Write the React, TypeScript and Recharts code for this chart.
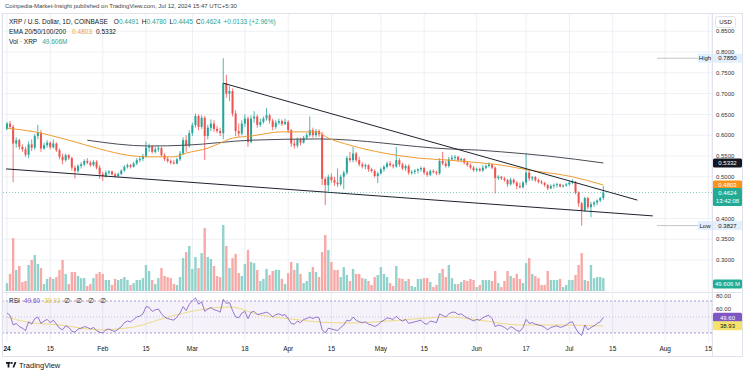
import React from "react";
import {
	ComposedChart,
	Bar,
	Line,
	XAxis,
	YAxis,
	CartesianGrid,
	ReferenceLine,
	ReferenceArea,
} from "recharts";

type Ohlc = [number, number, number, number];

const FONT = '"Liberation Sans", Arial, sans-serif';
const UP = "#26a69a";
const DOWN = "#ef5350";
const UP_VOL = "#92d2cc";
const DOWN_VOL = "#f7a9a7";
const INK = "#131722";
const GRID = "#edf0f5";
const ORANGE = "#f09c32";
const PURPLE = "#7e57c2";
const YELLOW = "#f5e26b";

// daily candles from Jan 1 2024, [open, high, low, close]
const CANDLES: Ohlc[] = [
	// Jan
	[0.615, 0.632, 0.612, 0.628], [0.628, 0.634, 0.615, 0.62], [0.62, 0.625, 0.487, 0.58], [0.58, 0.595, 0.57, 0.588], [0.588, 0.592, 0.565, 0.572],
	[0.572, 0.578, 0.56, 0.566], [0.566, 0.572, 0.548, 0.553], [0.553, 0.585, 0.545, 0.578], [0.578, 0.59, 0.562, 0.57], [0.57, 0.603, 0.565, 0.598],
	[0.598, 0.625, 0.59, 0.606], [0.606, 0.612, 0.56, 0.568], [0.568, 0.582, 0.565, 0.576], [0.576, 0.588, 0.57, 0.582], [0.582, 0.585, 0.566, 0.571],
	[0.571, 0.59, 0.568, 0.58], [0.58, 0.583, 0.56, 0.564], [0.564, 0.568, 0.542, 0.548], [0.548, 0.556, 0.53, 0.54], [0.54, 0.556, 0.536, 0.552],
	[0.552, 0.555, 0.54, 0.545], [0.545, 0.548, 0.515, 0.522], [0.522, 0.527, 0.496, 0.514], [0.514, 0.53, 0.51, 0.526], [0.526, 0.535, 0.52, 0.53],
	[0.53, 0.542, 0.525, 0.538], [0.538, 0.545, 0.53, 0.534], [0.534, 0.538, 0.524, 0.528], [0.528, 0.54, 0.525, 0.536], [0.536, 0.54, 0.518, 0.522],
	[0.522, 0.528, 0.495, 0.506],
	// Feb
	[0.506, 0.512, 0.49, 0.502], [0.502, 0.515, 0.498, 0.51], [0.51, 0.516, 0.505, 0.513], [0.513, 0.515, 0.503, 0.506], [0.506, 0.51, 0.498, 0.502],
	[0.502, 0.51, 0.499, 0.507], [0.507, 0.518, 0.504, 0.515], [0.515, 0.528, 0.512, 0.524], [0.524, 0.532, 0.52, 0.528], [0.528, 0.531, 0.52, 0.524],
	[0.524, 0.536, 0.522, 0.532], [0.532, 0.545, 0.528, 0.54], [0.54, 0.548, 0.535, 0.543], [0.543, 0.555, 0.538, 0.55], [0.55, 0.585, 0.546, 0.57],
	[0.57, 0.58, 0.56, 0.573], [0.573, 0.576, 0.556, 0.56], [0.56, 0.572, 0.556, 0.566], [0.566, 0.575, 0.56, 0.569], [0.569, 0.572, 0.548, 0.552],
	[0.552, 0.556, 0.538, 0.543], [0.543, 0.548, 0.534, 0.538], [0.538, 0.542, 0.53, 0.534], [0.534, 0.54, 0.53, 0.532], [0.532, 0.546, 0.53, 0.542],
	[0.542, 0.562, 0.538, 0.556], [0.556, 0.595, 0.552, 0.588], [0.588, 0.6, 0.56, 0.575], [0.575, 0.612, 0.57, 0.605],
	// Mar
	[0.605, 0.63, 0.598, 0.624], [0.624, 0.652, 0.618, 0.646], [0.646, 0.65, 0.612, 0.62], [0.62, 0.648, 0.615, 0.642], [0.642, 0.646, 0.54, 0.598],
	[0.598, 0.625, 0.59, 0.618], [0.618, 0.638, 0.61, 0.628], [0.628, 0.636, 0.608, 0.615], [0.615, 0.622, 0.605, 0.61], [0.61, 0.618, 0.598, 0.605],
	[0.605, 0.785, 0.59, 0.725], [0.725, 0.745, 0.69, 0.7], [0.7, 0.718, 0.682, 0.706], [0.706, 0.712, 0.645, 0.652], [0.652, 0.66, 0.598, 0.61],
	[0.61, 0.628, 0.596, 0.604], [0.604, 0.636, 0.6, 0.628], [0.628, 0.65, 0.62, 0.64], [0.64, 0.645, 0.572, 0.584], [0.584, 0.648, 0.58, 0.64],
	[0.64, 0.658, 0.63, 0.645], [0.645, 0.65, 0.618, 0.625], [0.625, 0.64, 0.62, 0.632], [0.632, 0.645, 0.628, 0.64], [0.64, 0.665, 0.635, 0.648],
	[0.648, 0.652, 0.628, 0.635], [0.635, 0.64, 0.612, 0.62], [0.62, 0.636, 0.615, 0.63], [0.63, 0.64, 0.625, 0.634], [0.634, 0.638, 0.622, 0.627],
	[0.627, 0.64, 0.624, 0.632],
	// Apr
	[0.632, 0.636, 0.605, 0.612], [0.612, 0.615, 0.572, 0.58], [0.58, 0.59, 0.568, 0.575], [0.575, 0.595, 0.57, 0.59], [0.59, 0.594, 0.575, 0.582],
	[0.582, 0.598, 0.58, 0.594], [0.594, 0.606, 0.59, 0.6], [0.6, 0.645, 0.596, 0.612], [0.612, 0.618, 0.594, 0.6], [0.6, 0.615, 0.595, 0.61],
	[0.61, 0.614, 0.596, 0.602], [0.602, 0.608, 0.48, 0.495], [0.495, 0.5, 0.432, 0.48], [0.48, 0.505, 0.465, 0.5], [0.5, 0.508, 0.486, 0.492],
	[0.492, 0.5, 0.478, 0.486], [0.486, 0.52, 0.475, 0.482], [0.482, 0.505, 0.478, 0.5], [0.5, 0.515, 0.47, 0.51], [0.51, 0.55, 0.505, 0.545],
	[0.545, 0.56, 0.535, 0.54], [0.54, 0.572, 0.535, 0.556], [0.556, 0.56, 0.535, 0.54], [0.54, 0.548, 0.525, 0.53], [0.53, 0.535, 0.52, 0.525],
	[0.525, 0.532, 0.518, 0.528], [0.528, 0.53, 0.512, 0.518], [0.518, 0.522, 0.51, 0.514], [0.514, 0.518, 0.498, 0.502], [0.502, 0.512, 0.485, 0.508],
	// May
	[0.508, 0.522, 0.505, 0.518], [0.518, 0.528, 0.512, 0.524], [0.524, 0.536, 0.52, 0.532], [0.532, 0.538, 0.524, 0.528], [0.528, 0.532, 0.52, 0.525],
	[0.525, 0.572, 0.522, 0.54], [0.54, 0.545, 0.524, 0.53], [0.53, 0.534, 0.516, 0.52], [0.52, 0.53, 0.514, 0.526], [0.526, 0.53, 0.505, 0.51],
	[0.51, 0.516, 0.505, 0.512], [0.512, 0.518, 0.506, 0.515], [0.515, 0.52, 0.508, 0.518], [0.518, 0.525, 0.512, 0.521], [0.521, 0.524, 0.505, 0.51],
	[0.51, 0.514, 0.5, 0.505], [0.505, 0.518, 0.502, 0.514], [0.514, 0.518, 0.508, 0.511], [0.511, 0.515, 0.504, 0.508], [0.508, 0.545, 0.505, 0.538],
	[0.538, 0.56, 0.528, 0.532], [0.532, 0.538, 0.522, 0.526], [0.526, 0.548, 0.522, 0.542], [0.542, 0.552, 0.538, 0.546], [0.546, 0.552, 0.54, 0.548],
	[0.548, 0.55, 0.536, 0.54], [0.54, 0.546, 0.535, 0.543], [0.543, 0.545, 0.53, 0.534], [0.534, 0.538, 0.524, 0.528], [0.528, 0.532, 0.518, 0.522],
	[0.522, 0.526, 0.512, 0.516],
	// Jun
	[0.516, 0.522, 0.512, 0.519], [0.519, 0.522, 0.512, 0.515], [0.515, 0.528, 0.512, 0.522], [0.522, 0.53, 0.518, 0.526], [0.526, 0.535, 0.522, 0.53],
	[0.53, 0.532, 0.518, 0.522], [0.522, 0.525, 0.46, 0.497], [0.497, 0.504, 0.492, 0.5], [0.5, 0.502, 0.492, 0.496], [0.496, 0.5, 0.488, 0.492],
	[0.492, 0.495, 0.476, 0.482], [0.482, 0.498, 0.479, 0.493], [0.493, 0.496, 0.482, 0.486], [0.486, 0.49, 0.47, 0.478], [0.478, 0.486, 0.472, 0.475],
	[0.475, 0.49, 0.472, 0.486], [0.486, 0.557, 0.48, 0.51], [0.51, 0.515, 0.49, 0.496], [0.496, 0.502, 0.49, 0.499], [0.499, 0.502, 0.488, 0.492],
	[0.492, 0.496, 0.484, 0.488], [0.488, 0.492, 0.482, 0.485], [0.485, 0.488, 0.476, 0.48], [0.48, 0.483, 0.468, 0.472], [0.472, 0.482, 0.47, 0.478],
	[0.478, 0.484, 0.472, 0.48], [0.48, 0.486, 0.474, 0.482], [0.482, 0.484, 0.474, 0.477], [0.477, 0.482, 0.474, 0.479], [0.479, 0.485, 0.476, 0.482],
	// Jul
	[0.482, 0.49, 0.478, 0.486], [0.486, 0.494, 0.482, 0.488], [0.488, 0.49, 0.458, 0.462], [0.462, 0.465, 0.428, 0.436], [0.436, 0.44, 0.3827, 0.42],
	[0.42, 0.452, 0.415, 0.449], [0.449, 0.452, 0.422, 0.427], [0.427, 0.44, 0.403, 0.434], [0.434, 0.442, 0.428, 0.438], [0.438, 0.446, 0.432, 0.443],
	[0.443, 0.452, 0.439, 0.4491], [0.4491, 0.478, 0.4445, 0.4624],
];

// volume in millions of XRP, same days
const VOLUME_M: number[] = [
	30, 65, 201, 80, 95, 34, 38, 99, 118, 137,
	103, 87, 27, 46, 53, 46, 53, 80, 118, 65,
	27, 72, 72, 57, 49, 49, 19, 27, 49, 65,
	72, 65, 42, 42, 23, 46, 42, 46, 53, 42,
	23, 30, 42, 42, 49, 99, 76, 42, 27, 49,
	87, 57, 53, 49, 27, 23, 53, 125, 148, 171,
	84, 129, 87, 144, 239, 129, 122, 95, 57, 53,
	251, 171, 87, 125, 141, 68, 57, 103, 156, 110,
	106, 80, 38, 46, 84, 61, 76, 80, 80, 46,
	27, 68, 110, 80, 106, 65, 30, 38, 72, 91,
	72, 53, 148, 213, 156, 110, 80, 80, 53, 91,
	61, 38, 84, 65, 65, 49, 46, 38, 23, 53,
	61, 91, 65, 53, 30, 19, 95, 49, 46, 38,
	46, 19, 15, 46, 46, 49, 49, 34, 15, 23,
	68, 84, 53, 99, 49, 27, 27, 34, 42, 38,
	46, 42, 15, 23, 42, 42, 42, 38, 76, 30,
	15, 38, 76, 57, 49, 65, 46, 30, 106, 125,
	65, 57, 49, 23, 23, 76, 42, 42, 42, 46,
	15, 23, 42, 42, 61, 99, 144, 42, 38, 99,
	49, 53, 53, 49.606,
];

// RSI(14), same days
const RSI: number[] = [
	55, 52, 40, 42, 38, 36, 33, 44, 41, 48,
	50, 42, 45, 47, 43, 46, 41, 36, 34, 39,
	37, 32, 31, 35, 36, 38, 37, 35, 37, 33,
	31, 30, 34, 35, 33, 32, 35, 38, 43, 45,
	44, 47, 50, 51, 54, 63, 62, 57, 59, 60,
	54, 50, 48, 47, 46, 50, 55, 63, 58, 66,
	70, 74, 66, 69, 57, 60, 62, 59, 58, 56,
	72, 67, 68, 58, 50, 49, 55, 57, 48, 56,
	57, 53, 54, 55, 56, 54, 50, 53, 54, 52,
	53, 48, 42, 41, 45, 43, 47, 48, 50, 48,
	50, 49, 34, 30, 36, 35, 34, 33, 37, 40,
	46, 45, 50, 46, 44, 43, 44, 41, 40, 38,
	40, 44, 46, 49, 48, 47, 51, 47, 45, 47,
	42, 43, 44, 45, 46, 42, 41, 45, 44, 43,
	54, 52, 50, 54, 56, 56, 53, 54, 51, 49,
	47, 45, 47, 46, 49, 51, 52, 48, 38, 40,
	39, 37, 34, 38, 36, 33, 32, 37, 47, 42,
	43, 41, 40, 39, 37, 34, 37, 38, 39, 37,
	38, 40, 43, 44, 36, 30, 27, 40, 34, 37,
	39, 42, 44, 49.6,
];

// smooth lines read at a few days: [day, value]
const RSI_MA: [number, number][] = [
	[0, 50], [6, 44], [17, 40], [30, 34], [41, 37.5], [51, 48.7], [62, 58.7], [72, 62.5], [82, 52.5],
	[92, 47.5], [101, 43.7], [111, 42.5], [127, 46], [143, 50], [153, 46], [166, 40], [179, 40], [193, 38.93],
];
const EMA_FAST: [number, number][] = [
	[0, 0.617], [9, 0.608], [20, 0.588], [30, 0.567], [39, 0.552], [46, 0.548], [54, 0.548], [58, 0.557],
	[65, 0.569], [69, 0.581], [73, 0.593], [79, 0.598], [89, 0.608], [100, 0.608], [104, 0.593], [111, 0.576],
	[122, 0.557], [133, 0.545], [143, 0.54], [154, 0.533], [160, 0.528], [169, 0.516], [183, 0.5], [193, 0.4803],
];
const EMA_SLOW: [number, number][] = [
	[26, 0.588], [46, 0.574], [58, 0.576], [79, 0.588], [101, 0.591], [143, 0.567], [153, 0.564], [160, 0.56],
	[175, 0.55], [193, 0.5332],
];

// drawn trend lines: [[day, price], [day, price]]
const TREND_LINES: [[number, number], [number, number]][] = [
	[[70, 0.725], [204, 0.444]],
	[[-0.3, 0.519], [209, 0.406]],
];

const X_TICKS = [0, 14, 31, 45, 60, 77, 91, 105, 121, 135, 152, 168, 182, 196, 213, 227];
const X_LABELS = ["24", "15", "Feb", "15", "Mar", "18", "Apr", "15", "May", "15", "Jun", "17", "Jul", "15", "Aug", "15"];
const PRICE_TICKS = [0.3, 0.35, 0.4, 0.5, 0.55, 0.6, 0.65, 0.7, 0.75, 0.8, 0.85];
const RSI_TICKS = [60, 80];

const X_DOMAIN: [number, number] = [-1.618, 228.155];
const PRICE_DOMAIN: [number, number] = [0.22548, 0.89375];
const VOL_DOMAIN: [number, number] = [0, 1056.4];
const RSI_DOMAIN: [number, number] = [18.75, 81.25];

const rows = CANDLES.map(([open, high, low, close], day) => ({
	day,
	open,
	high,
	low,
	close,
	range: [low, high],
	vol: VOLUME_M[day],
	rsi: RSI[day],
}));

const toRows = (pts: [number, number][]) => pts.map(([day, v]) => ({ day, v }));

const last = CANDLES[CANDLES.length - 1];
const prev = CANDLES[CANDLES.length - 2];
const change = last[3] - prev[3];
const changePct = (change / prev[3]) * 100;
const highAll = Math.max(...CANDLES.map((c) => c[1]));
const lowAll = Math.min(...CANDLES.map((c) => c[2]));
const emaFastLast = EMA_FAST[EMA_FAST.length - 1][1];
const emaSlowLast = EMA_SLOW[EMA_SLOW.length - 1][1];
const volLast = VOLUME_M[VOLUME_M.length - 1];
const rsiLast = RSI[RSI.length - 1];
const rsiMaLast = RSI_MA[RSI_MA.length - 1][1];

const Candle = (props: any) => {
	const { x, y, width, height, payload } = props;
	if (!payload) return null;
	const { open, high, low, close } = payload;
	const top = Math.min(y, y + height);
	const span = Math.abs(height);
	const k = high > low ? span / (high - low) : 0;
	const py = (v: number) => top + (high - v) * k;
	const color = close >= open ? UP : DOWN;
	const cx = x + width / 2;
	const bodyTop = py(Math.max(open, close));
	const bodyH = Math.max(1, Math.abs(py(open) - py(close)));
	return (
		<g>
			<line x1={cx} x2={cx} y1={top} y2={top + span} stroke={color} strokeWidth={0.8} />
			<rect x={cx - 1} y={bodyTop} width={2} height={bodyH} fill={color} />
		</g>
	);
};

const VolumeBar = (props: any) => {
	const { x, y, width, height, payload } = props;
	if (!payload) return null;
	const cx = x + width / 2;
	return (
		<rect
			x={cx - 1.2}
			y={Math.min(y, y + height)}
			width={2.4}
			height={Math.abs(height)}
			fill={payload.close >= payload.open ? UP_VOL : DOWN_VOL}
		/>
	);
};

const axisTag =
	(text: string, bg: string, fg: string, sub?: string, dy = 0) =>
	(props: any) => {
		const vb = props.viewBox || {};
		const x = (vb.x || 0) + (vb.width || 0) + 1;
		const y = (vb.y || 0) + dy;
		return (
			<g>
				<rect x={x} y={y - 4.5} width={29} height={sub ? 18 : 9} rx={1.5} fill={bg} />
				<text x={x + 14.5} y={y + 2.2} textAnchor="middle" fontSize={6} fill={fg} fontFamily={FONT}>
					{text}
				</text>
				{sub && (
					<text x={x + 14.5} y={y + 10.8} textAnchor="middle" fontSize={6} fill={fg} fontFamily={FONT}>
						{sub}
					</text>
				)}
			</g>
		);
	};

const extremeTag = (name: string, value: number) => (props: any) => {
	const vb = props.viewBox || {};
	const x = (vb.x || 0) + (vb.width || 0);
	const y = vb.y || 0;
	return (
		<g>
			<line x1={x - 55} x2={x - 14} y1={y} y2={y} stroke="#b2b5be" strokeWidth={0.8} />
			<rect x={x - 14} y={y - 4.5} width={14} height={9} fill="#e3effd" />
			<text x={x - 7} y={y + 2.2} textAnchor="middle" fontSize={6} fill={INK} fontFamily={FONT}>
				{name}
			</text>
			<rect x={x + 1} y={y - 4.5} width={29} height={9} fill="#e3effd" />
			<text x={x + 15.5} y={y + 2.2} textAnchor="middle" fontSize={6} fill={INK} fontFamily={FONT}>
				{value.toFixed(4)}
			</text>
		</g>
	);
};

const XTick = (props: any) => {
	const { x, y, payload } = props;
	const i = X_TICKS.indexOf(payload.value);
	return (
		<text
			x={x}
			y={y + 4.5}
			textAnchor="middle"
			fontSize={6.5}
			fill={INK}
			fontFamily={FONT}
			fontWeight={i === 0 ? 700 : 400}
		>
			{X_LABELS[i]}
		</text>
	);
};

// rsi axis labels; the top one is nudged down so it stays inside the pane
const RsiTick = (props: any) => {
	const { x, y, payload } = props;
	const shift = y < 4 ? 4 - y : 0;
	return (
		<text x={x} y={y + shift + 2.2} fontSize={6} fill="#333" fontFamily={FONT}>
			{Number(payload.value).toFixed(2)}
		</text>
	);
};

const legendLine: React.CSSProperties = {
	position: "absolute",
	left: 9,
	fontSize: 6.5,
	lineHeight: "8px",
	color: INK,
	whiteSpace: "nowrap",
};

export default function App() {
	const up = { color: UP };
	return (
		<div
			style={{
				position: "fixed",
				left: 0,
				top: 0,
				width: 750,
				height: 373,
				background: "#fff",
				fontFamily: FONT,
				overflow: "hidden",
			}}
		>
			<div style={{ position: "absolute", left: 5, top: 3, fontSize: 6, color: "#444", whiteSpace: "nowrap" }}>
				Coinpedia-Market-Insight published on TradingView.com, Jul 12, 2024 15:47 UTC+5:30
			</div>

			<div style={{ position: "absolute", left: 0, top: 13 }}>
				<ComposedChart width={745} height={278} data={rows} margin={{ top: 0, right: 0, bottom: 0, left: 2 }}>
					<XAxis xAxisId="c" dataKey="day" type="number" domain={X_DOMAIN} allowDataOverflow hide ticks={X_TICKS} interval={0} />
					<XAxis xAxisId="v" dataKey="day" type="number" domain={X_DOMAIN} allowDataOverflow hide />
					<YAxis
						yAxisId="price"
						orientation="right"
						domain={PRICE_DOMAIN}
						allowDataOverflow
						ticks={PRICE_TICKS}
						interval={0}
						width={33}
						tickFormatter={(v: number) => v.toFixed(4)}
						tick={{ fontSize: 6, fill: "#333", fontFamily: FONT }}
						tickLine={false}
						tickSize={0}
						tickMargin={4}
						axisLine={false}
					/>
					<YAxis yAxisId="vol" domain={VOL_DOMAIN} allowDataOverflow hide />
					<CartesianGrid xAxisId="c" yAxisId="price" stroke={GRID} />

					<Bar xAxisId="v" yAxisId="vol" dataKey="vol" barSize={3} shape={VolumeBar} isAnimationActive={false} />
					<Bar xAxisId="c" yAxisId="price" dataKey="range" barSize={3} shape={Candle} isAnimationActive={false} />

					<Line
						xAxisId="c"
						yAxisId="price"
						data={toRows(EMA_SLOW)}
						dataKey="v"
						type="monotone"
						stroke="#4a4d57"
						strokeWidth={1}
						dot={false}
						isAnimationActive={false}
					/>
					<Line
						xAxisId="c"
						yAxisId="price"
						data={toRows(EMA_FAST)}
						dataKey="v"
						type="monotone"
						stroke={ORANGE}
						strokeWidth={1}
						dot={false}
						isAnimationActive={false}
					/>

					{TREND_LINES.map(([a, b], i) => (
						<ReferenceLine
							key={i}
							xAxisId="c"
							yAxisId="price"
							segment={[
								{ x: a[0], y: a[1] },
								{ x: b[0], y: b[1] },
							]}
							stroke="#1e222d"
							strokeWidth={1}
						/>
					))}

					<ReferenceLine xAxisId="c" yAxisId="price" y={highAll} stroke="none" label={extremeTag("High", highAll)} />
					<ReferenceLine xAxisId="c" yAxisId="price" y={lowAll} stroke="none" label={extremeTag("Low", lowAll)} />
					<ReferenceLine
						xAxisId="c"
						yAxisId="price"
						y={emaSlowLast}
						stroke="none"
						label={axisTag(emaSlowLast.toFixed(4), "#131722", "#fff")}
					/>
					<ReferenceLine
						xAxisId="c"
						yAxisId="price"
						y={emaFastLast}
						stroke="none"
						label={axisTag(emaFastLast.toFixed(4), "#f7931a", "#fff")}
					/>
					<ReferenceLine
						xAxisId="c"
						yAxisId="price"
						y={last[3]}
						stroke={UP}
						strokeOpacity={0.6}
						strokeDasharray="1 2"
						label={axisTag(last[3].toFixed(4), "#22ab94", "#fff", "13:42:08")}
					/>
					<ReferenceLine
						xAxisId="v"
						yAxisId="vol"
						y={volLast}
						stroke="none"
						label={axisTag(`${volLast.toFixed(3)} M`, "#22ab94", "#fff", undefined, 6)}
					/>
				</ComposedChart>
			</div>

			<div style={{ position: "absolute", left: 0, top: 292 }}>
				<ComposedChart width={745} height={64} data={rows} margin={{ top: 0, right: 0, bottom: 0, left: 2 }}>
					<XAxis
						dataKey="day"
						type="number"
						domain={X_DOMAIN}
						allowDataOverflow
						ticks={X_TICKS}
						interval={0}
						height={14}
						tickLine={false}
						tickSize={0}
						tickMargin={4}
						axisLine={false}
						tick={XTick}
					/>
					<YAxis
						orientation="right"
						domain={RSI_DOMAIN}
						allowDataOverflow
						ticks={RSI_TICKS}
						interval={0}
						width={33}
						tick={RsiTick}
						tickLine={false}
						tickSize={0}
						tickMargin={4}
						axisLine={false}
					/>
					<CartesianGrid horizontal={false} stroke={GRID} />
					<ReferenceArea y1={30} y2={70} fill={PURPLE} fillOpacity={0.08} stroke="none" />
					<ReferenceLine y={70} stroke="#a898d4" strokeDasharray="2 2" />
					<ReferenceLine y={50} stroke="#c6bbe4" strokeDasharray="1 2" />
					<ReferenceLine y={30} stroke="#a898d4" strokeDasharray="2 2" />
					<Line
						data={toRows(RSI_MA)}
						dataKey="v"
						type="monotone"
						stroke="#eedb86"
						strokeWidth={1}
						dot={false}
						isAnimationActive={false}
					/>
					<Line dataKey="rsi" stroke={PURPLE} strokeWidth={0.8} dot={false} isAnimationActive={false} />
					<ReferenceLine y={rsiLast} stroke="none" label={axisTag(rsiLast.toFixed(2), PURPLE, "#fff")} />
					<ReferenceLine y={rsiMaLast} stroke="none" label={axisTag(rsiMaLast.toFixed(2), YELLOW, INK)} />
				</ComposedChart>
			</div>

			<svg width={750} height={373} style={{ position: "absolute", left: 0, top: 0, pointerEvents: "none" }}>
				<rect x={2.5} y={13.5} width={740} height={343} fill="none" stroke="#e0e3eb" />
				<line x1={2} x2={743} y1={292.5} y2={292.5} stroke="#e0e3eb" />
				<line x1={712.5} x2={712.5} y1={13} y2={357} stroke="#e0e3eb" />
				<rect x={715.5} y={16.5} width={20} height={11} rx={2} fill="#fff" stroke="#e0e3eb" />
				<text x={725.5} y={24.3} textAnchor="middle" fontSize={6} fill={INK} fontFamily={FONT}>
					USD
				</text>
				<g fill={INK}>
					<rect x={6} y={362} width={4.5} height={1.8} />
					<rect x={7.6} y={362} width={1.8} height={5.5} />
					<circle cx={11.8} cy={363} r={1} />
					<path d="M12.5 367.5 L14.6 362 L16.4 362 L14.2 367.5 Z" />
				</g>
				<text x={19} y={367.5} fontSize={7.5} fill={INK} fontFamily={FONT}>
					TradingView
				</text>
			</svg>

			<div style={{ ...legendLine, top: 18 }}>
				XRP / U.S. Dollar, 1D, COINBASE
				<span style={{ marginLeft: 6 }}>O</span>
				<span style={up}>{last[0].toFixed(4)}</span>
				<span style={{ marginLeft: 3 }}>H</span>
				<span style={up}>{last[1].toFixed(4)}</span>
				<span style={{ marginLeft: 3 }}>L</span>
				<span style={up}>{last[2].toFixed(4)}</span>
				<span style={{ marginLeft: 3 }}>C</span>
				<span style={up}>{last[3].toFixed(4)}</span>
				<span style={{ ...up, marginLeft: 3 }}>
					+{change.toFixed(4)} (+{changePct.toFixed(2)}%)
				</span>
			</div>
			<div style={{ ...legendLine, top: 28 }}>
				EMA 20/50/100/200
				<span style={{ color: ORANGE, marginLeft: 6 }}>{emaFastLast.toFixed(4)}</span>
				<span style={{ marginLeft: 4 }}>{emaSlowLast.toFixed(4)}</span>
			</div>
			<div style={{ ...legendLine, top: 38 }}>
				Vol · XRP
				<span style={{ ...up, marginLeft: 5 }}>{volLast.toFixed(3)}M</span>
			</div>
			<div style={{ ...legendLine, top: 297 }}>
				RSI
				<span style={{ color: PURPLE, marginLeft: 4 }}>{rsiLast.toFixed(2)}</span>
				<span style={{ color: "#e0c84a", marginLeft: 4 }}>{rsiMaLast.toFixed(2)}</span>
				<span style={{ marginLeft: 4, letterSpacing: 2 }}>∅ ∅ ∅ ∅</span>
			</div>
		</div>
	);
}
